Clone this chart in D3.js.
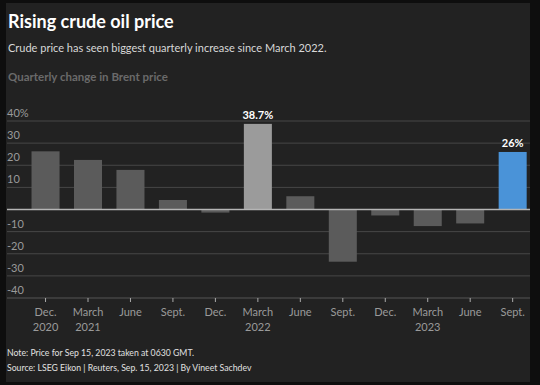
<!DOCTYPE html>
<html>
<head>
<meta charset="utf-8">
<script src="https://cdn.jsdelivr.net/npm/d3@7"></script>
<style>
  body { margin: 0; background: #0e0e0e; }
  svg text { font-family: Lato, "Noto Sans", sans-serif; }
</style>
</head>
<body>
<div id="chart"></div>
<script>
// quarterly change in Brent price, %
var quarters = ["Dec.|2020", "March|2021", "June", "Sept.", "Dec.", "March|2022",
                "June", "Sept.", "Dec.", "March|2023", "June", "Sept."];
var changes = [26.3, 22.4, 17.9, 4.3, -1.4, 38.7, 6.0, -23.6, -2.7, -7.5, -6.3, 26];
var yTicks = [40, 30, 20, 10, 0, -10, -20, -30, -40];
var highlight = {5: "#9b9b9b", 11: "#4a93d8"};
var valueLabels = {5: "38.7%", 11: "26%"};

var width = 540, height = 385;

var svg = d3.select("#chart")
  .append("svg")
  .attr("width", width)
  .attr("height", height);

// panel
svg.append("rect")
  .attr("x", 6).attr("y", 3)
  .attr("width", 524).attr("height", 379)
  .attr("fill", "#222222");

svg.append("text")
  .attr("x", 8).attr("y", 28)
  .attr("fill", "#ffffff")
  .style("font-size", "18px")
  .style("font-weight", "bold")
  .text("Rising crude oil price");

svg.append("text")
  .attr("x", 8).attr("y", 52)
  .attr("fill", "#d8d8d8")
  .style("font-size", "11px")
  .text("Crude price has seen biggest quarterly increase since March 2022.");

svg.append("text")
  .attr("x", 8).attr("y", 81)
  .attr("fill", "#6a6a6a")
  .style("font-size", "11.5px")
  .style("font-weight", "bold")
  .text("Quarterly change in Brent price");

var x = d3.scaleBand()
  .domain(d3.range(quarters.length))
  .range([24.3, 533.9])
  .paddingInner(0.34)
  .paddingOuter(0.17);

var y = d3.scaleLinear()
  .domain([-40, 40])
  .range([298, 121]);

// grid
var grid = svg.append("g");
grid.selectAll("line")
  .data(yTicks.filter(function(d) { return d != 0; }))
  .enter()
  .append("line")
  .attr("x1", 7).attr("x2", 530)
  .attr("y1", function(d) { return y(d); })
  .attr("y2", function(d) { return y(d); })
  .attr("stroke", function(d) { return d == -40 ? "#555" : "#474747"; })
  .attr("stroke-width", 1);

grid.selectAll("text")
  .data(yTicks.filter(function(d) { return d != 0; }))
  .enter()
  .append("text")
  .attr("x", 7)
  .attr("y", function(d) { return y(d) - 4; })
  .attr("fill", "#9a9a9a")
  .style("font-size", "11px")
  .text(function(d) { return d == 40 ? "40%" : d; });

// bars
svg.append("g")
  .selectAll("rect")
  .data(changes)
  .enter()
  .append("rect")
  .attr("x", function(d, i) { return x(i); })
  .attr("width", x.bandwidth())
  .attr("y", function(d) { return y(Math.max(0, d)); })
  .attr("height", function(d) { return Math.abs(y(d) - y(0)); })
  .attr("fill", function(d, i) { return highlight[i] || "#5b5b5b"; });

svg.append("g")
  .selectAll("text")
  .data(changes)
  .enter()
  .filter(function(d, i) { return valueLabels[i]; })
  .append("text")
  .attr("x", function(d) { return x(changes.indexOf(d)) + x.bandwidth() / 2; })
  .attr("y", function(d) { return y(d) - 5; })
  .attr("text-anchor", "middle")
  .attr("fill", "#ffffff")
  .style("font-size", "11px")
  .style("font-weight", "bold")
  .text(function(d) { return valueLabels[changes.indexOf(d)]; });

// zero line
svg.append("line")
  .attr("x1", 7).attr("x2", 530)
  .attr("y1", y(0)).attr("y2", y(0))
  .attr("stroke", "#b5b5b5")
  .attr("stroke-width", 1.5);

// x axis
var xAxis = svg.append("g")
  .attr("transform", "translate(0," + y(-40) + ")")
  .call(d3.axisBottom(x).tickSize(4).tickSizeOuter(0).tickFormat(""));
xAxis.select(".domain").remove();
xAxis.selectAll("line").attr("stroke", "#aaaaaa");

xAxis.selectAll(".tick")
  .each(function(d) {
    var parts = quarters[d].split("|");
    var t = d3.select(this).append("text")
      .attr("fill", "#9a9a9a")
      .attr("text-anchor", "middle")
      .style("font-size", "11px");
    parts.forEach(function(p, k) {
      t.append("tspan").attr("x", 0).attr("y", 18 + k * 15).text(p);
    });
  });

svg.append("text")
  .attr("x", 7).attr("y", 356)
  .attr("fill", "#e0e0e0")
  .style("font-size", "8.7px")
  .text("Note: Price for Sep 15, 2023 taken at 0630 GMT.");

svg.append("text")
  .attr("x", 7).attr("y", 371)
  .attr("fill", "#e0e0e0")
  .style("font-size", "8.7px")
  .text("Source: LSEG Eikon | Reuters, Sep. 15, 2023 | By Vineet Sachdev");
</script>
</body>
</html>
